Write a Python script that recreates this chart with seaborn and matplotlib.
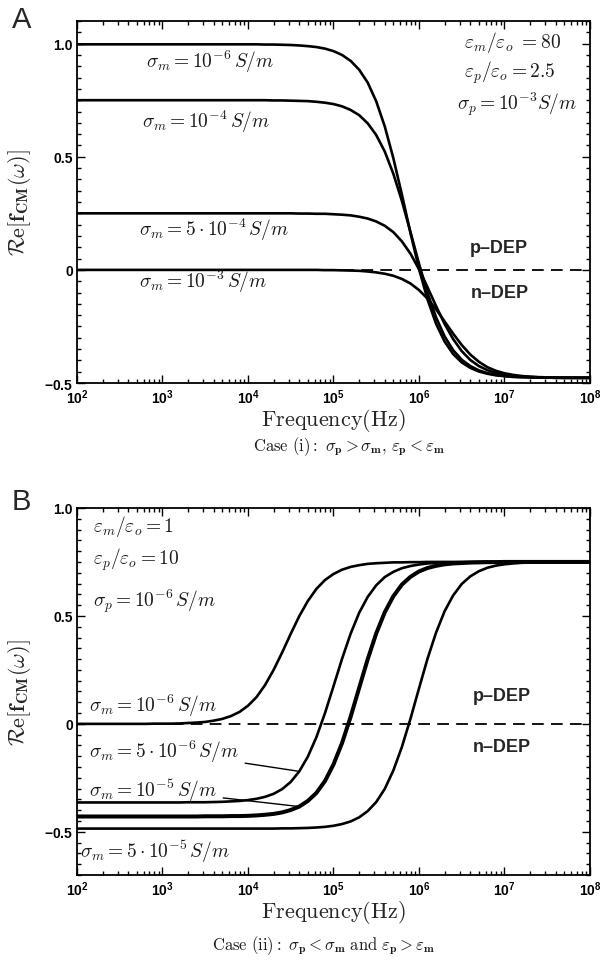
import numpy as np
import pandas as pd
import matplotlib
matplotlib.use("Agg")
import matplotlib.pyplot as plt
from matplotlib.ticker import MultipleLocator, LogLocator, NullFormatter, FixedLocator
import seaborn as sns

# ==========================================
# DADOS
# ==========================================
# expoentes da frequência: 10^2 ... 10^8, passo 0.1 década (61 pontos)
freq_exp = [round(2.0 + 0.1 * i, 1) for i in range(61)]

# Painel A: sigma_p > sigma_m, eps_p < eps_m
a_sig_1e6 = [0.997] * 20 + [
    0.997, 0.997, 0.996, 0.996, 0.995, 0.994, 0.992, 0.989, 0.985, 0.978,
    0.967, 0.950, 0.924, 0.885, 0.828, 0.745, 0.634, 0.494, 0.333, 0.164,
    0.005, -0.131, -0.238, -0.317, -0.372, -0.409, -0.433, -0.449, -0.459, -0.466,
    -0.470, -0.473, -0.474, -0.475, -0.476, -0.476, -0.477, -0.477, -0.477, -0.477, -0.477]
a_sig_1e4 = [0.750] * 20 + [
    0.750, 0.750, 0.750, 0.749, 0.749, 0.748, 0.747, 0.746, 0.743, 0.739,
    0.733, 0.723, 0.707, 0.684, 0.648, 0.596, 0.523, 0.425, 0.305, 0.168,
    0.028, -0.102, -0.210, -0.294, -0.355, -0.397, -0.425, -0.444, -0.456, -0.464,
    -0.468, -0.472, -0.474, -0.475, -0.476, -0.476, -0.477, -0.477, -0.477, -0.477, -0.477]
a_sig_5e4 = [0.250] * 20 + [
    0.250, 0.250, 0.250, 0.250, 0.250, 0.250, 0.249, 0.249, 0.248, 0.248,
    0.246, 0.244, 0.241, 0.235, 0.227, 0.214, 0.195, 0.167, 0.126, 0.072,
    0.003, -0.077, -0.160, -0.239, -0.306, -0.359, -0.398, -0.425, -0.443, -0.455,
    -0.463, -0.468, -0.471, -0.473, -0.475, -0.476, -0.476, -0.477, -0.477, -0.477, -0.477]
a_sig_1e3 = [0.0] * 20 + [
    0.0, 0.0, 0.0, 0.0, 0.0, 0.0, 0.0, 0.0, 0.0, -0.001,
    -0.001, -0.002, -0.003, -0.004, -0.007, -0.011, -0.017, -0.026, -0.040, -0.060,
    -0.089, -0.127, -0.174, -0.228, -0.282, -0.332, -0.374, -0.406, -0.430, -0.446,
    -0.457, -0.464, -0.469, -0.472, -0.474, -0.475, -0.476, -0.476, -0.477, -0.477, -0.477]

# Painel B: sigma_p < sigma_m, eps_p > eps_m
b_sig_1e6 = [0.0] * 9 + [
    0.001, 0.001, 0.001, 0.002, 0.004, 0.006, 0.009, 0.015, 0.023, 0.036,
    0.055, 0.084, 0.124, 0.180, 0.250, 0.331, 0.417, 0.499, 0.569, 0.625,
    0.666, 0.694, 0.714, 0.727, 0.735, 0.741, 0.744, 0.746, 0.748, 0.748,
    0.749, 0.749, 0.750] + [0.750] * 19
b_sig_5e6 = [-0.364] * 13 + [
    -0.363, -0.363, -0.363, -0.362, -0.361, -0.359, -0.357, -0.353, -0.347, -0.338,
    -0.324, -0.302, -0.269, -0.220, -0.152, -0.062, 0.049, 0.174, 0.301, 0.417,
    0.514, 0.588, 0.642, 0.680, 0.704, 0.721, 0.731, 0.738, 0.743, 0.745,
    0.747, 0.748, 0.749, 0.749] + [0.750] * 14
b_sig_1e5 = [-0.429] * 15 + [
    -0.428, -0.428, -0.428, -0.427, -0.427, -0.426, -0.424, -0.421, -0.417, -0.410,
    -0.399, -0.383, -0.357, -0.320, -0.265, -0.188, -0.089, 0.032, 0.166, 0.299,
    0.419, 0.517, 0.591, 0.645, 0.681, 0.706, 0.722, 0.732, 0.739, 0.743,
    0.745, 0.747, 0.748, 0.749, 0.749] + [0.750] * 11
b_sig_5e5 = [-0.485] * 24 + [
    -0.484, -0.484, -0.483, -0.482, -0.480, -0.477, -0.472, -0.464, -0.452, -0.433,
    -0.404, -0.362, -0.301, -0.216, -0.107, 0.023, 0.164, 0.302, 0.423, 0.522,
    0.595, 0.648, 0.683, 0.707, 0.723, 0.733, 0.739, 0.743, 0.746, 0.747,
    0.748, 0.749, 0.749] + [0.750] * 4

freq = 10 ** np.array(freq_exp)
xtick_exp = [2, 3, 4, 5, 6, 7, 8]

curvas_a = pd.DataFrame({"f": freq, "1e-6": a_sig_1e6, "1e-4": a_sig_1e4,
                         "5e-4": a_sig_5e4, "1e-3": a_sig_1e3})
curvas_b = pd.DataFrame({"f": freq, "1e-6": b_sig_1e6, "5e-6": b_sig_5e6,
                         "1e-5": b_sig_1e5, "5e-5": b_sig_5e5})

# ==========================================
# ESTILO
# ==========================================
sns.set_theme(style="ticks")
plt.rcParams["font.family"] = ["Liberation Sans", "DejaVu Sans"]
plt.rcParams["mathtext.fontset"] = "custom"
plt.rcParams["mathtext.rm"] = "Liberation Sans:bold"
plt.rcParams["mathtext.bf"] = "Liberation Sans:bold"
plt.rcParams["mathtext.it"] = "Liberation Sans:bold:italic"
plt.rcParams["axes.linewidth"] = 1.3
plt.rcParams["axes.edgecolor"] = "black"

TXT = "#1a1a1a"
CM = dict(math_fontfamily="cm", color=TXT)


def formatar_eixo(ax, ylabels):
    ax.set_xscale("log")
    ax.set_xlim(1e2, 1e8)
    ax.set_xticks([10.0 ** e for e in xtick_exp])
    ax.set_xticklabels([f"$10^{{{e}}}$" for e in xtick_exp])
    ax.xaxis.set_minor_locator(LogLocator(base=10, subs=np.arange(2, 10)))
    ax.xaxis.set_minor_formatter(NullFormatter())
    ax.yaxis.set_major_locator(FixedLocator([-0.5, 0, 0.5, 1.0]))
    ax.set_yticklabels(ylabels)
    ax.yaxis.set_minor_locator(MultipleLocator(0.05))
    ax.tick_params(which="both", direction="in", top=True, right=True, colors="black", width=1.0)
    ax.tick_params(which="major", length=6, pad=3, labelsize=10)
    ax.tick_params(which="minor", length=3)
    for lab in ax.get_xticklabels() + ax.get_yticklabels():
        lab.set_fontweight("bold")
    ax.set_xlabel(r"$\mathrm{Frequency(Hz)}$", fontsize=16, labelpad=0, math_fontfamily="cm")
    ax.set_ylabel(r"$\mathcal{R}\mathrm{e}[\mathbf{f}_{\mathbf{CM}}(\omega)]$", fontsize=16,
                  math_fontfamily="cm")
    ax.yaxis.set_label_coords(-0.085, 0.5)
    ax.axhline(0, color="black", lw=1.3, ls=(0, (6.5, 4)), zorder=1)


fig = plt.figure(figsize=(6.0, 9.7), dpi=100)
ax1 = fig.add_axes([0.1283, 0.6041, 0.855, 0.3732])
ax2 = fig.add_axes([0.1283, 0.0969, 0.855, 0.3784])

# ==========================================
# PAINEL A
# ==========================================
for col in ["1e-6", "1e-4", "5e-4", "1e-3"]:
    sns.lineplot(data=curvas_a, x="f", y=col, ax=ax1, color="black", lw=1.9, zorder=3)
ax1.set_ylim(-0.5, 1.1)
formatar_eixo(ax1, ["$-$0.5", "0", "0.5", "1.0"])

ax1.text(10 ** 2.81, 0.925, r"$\sigma_m = 10^{-6}\,S/m$", fontsize=14, va="center", **CM)
ax1.text(10 ** 2.76, 0.66, r"$\sigma_m = 10^{-4}\,S/m$", fontsize=14, va="center", **CM)
ax1.text(10 ** 2.73, 0.18, r"$\sigma_m = 5\cdot 10^{-4}\,S/m$", fontsize=14, va="center", **CM)
ax1.text(10 ** 2.73, -0.05, r"$\sigma_m = 10^{-3}\,S/m$", fontsize=14, va="center", **CM)
ax1.text(10 ** 6.53, 1.01, r"$\varepsilon_m/\varepsilon_o\ = 80$", fontsize=14, va="center", **CM)
ax1.text(10 ** 6.53, 0.875, r"$\varepsilon_p/\varepsilon_o = 2.5$", fontsize=14, va="center", **CM)
ax1.text(10 ** 6.44, 0.735, r"$\sigma_p = 10^{-3}S/m$", fontsize=14, va="center", **CM)
ax1.text(10 ** 6.6, 0.10, "p–DEP", fontsize=13, fontweight="bold", va="center")
ax1.text(10 ** 6.6, -0.10, "n–DEP", fontsize=13, fontweight="bold", va="center")
ax1.text(0.53, -0.172, r"$\mathrm{Case\ (i):}\ \sigma_{\mathbf{p}} > \sigma_{\mathbf{m}},\,"
         r"\varepsilon_{\mathbf{p}} < \varepsilon_{\mathbf{m}}$",
         transform=ax1.transAxes, ha="center", va="center", fontsize=12, **CM)

# ==========================================
# PAINEL B
# ==========================================
for col, lw in [("1e-6", 1.9), ("5e-6", 1.9), ("1e-5", 2.9), ("5e-5", 1.9)]:
    sns.lineplot(data=curvas_b, x="f", y=col, ax=ax2, color="black", lw=lw, zorder=3)
ax2.set_ylim(-0.7, 1.0)
formatar_eixo(ax2, ["$-$0.5", "0", "0.5", "1.0"])

ax2.text(10 ** 2.19, 0.92, r"$\varepsilon_m/\varepsilon_o = 1$", fontsize=14, va="center", **CM)
ax2.text(10 ** 2.19, 0.764, r"$\varepsilon_p/\varepsilon_o = 10$", fontsize=14, va="center", **CM)
ax2.text(10 ** 2.19, 0.574, r"$\sigma_p = 10^{-6}\,S/m$", fontsize=14, va="center", **CM)
ax2.text(10 ** 2.14, 0.088, r"$\sigma_m = 10^{-6}\,S/m$", fontsize=14, va="center", **CM)
ax2.text(10 ** 2.035, -0.59, r"$\sigma_m = 5\cdot 10^{-5}\,S/m$", fontsize=14, va="center", **CM)

i46 = freq_exp.index(4.6)
ax2.annotate(r"$\sigma_m = 5\cdot 10^{-6}\,S/m$", xy=(freq[i46], b_sig_5e6[i46]),
             xytext=(10 ** 2.14, -0.125), va="center", fontsize=14,
             arrowprops=dict(arrowstyle="-", color="black", lw=1.0, shrinkA=2, shrinkB=0), **CM)
ax2.annotate(r"$\sigma_m = 10^{-5}\,S/m$", xy=(freq[i46], b_sig_1e5[i46]),
             xytext=(10 ** 2.14, -0.306), va="center", fontsize=14,
             arrowprops=dict(arrowstyle="-", color="black", lw=1.0, shrinkA=2, shrinkB=0), **CM)
ax2.text(10 ** 6.63, 0.13, "p–DEP", fontsize=13, fontweight="bold", va="center")
ax2.text(10 ** 6.63, -0.106, "n–DEP", fontsize=13, fontweight="bold", va="center")
ax2.text(0.48, -0.19, r"$\mathrm{Case\ (ii):}\ \sigma_{\mathbf{p}} < \sigma_{\mathbf{m}}\ \mathrm{and}\ "
         r"\varepsilon_{\mathbf{p}} > \varepsilon_{\mathbf{m}}$",
         transform=ax2.transAxes, ha="center", va="center", fontsize=12, **CM)

fig.text(0.02, 0.979, "A", fontsize=21, va="center", ha="left")
fig.text(0.02, 0.482, "B", fontsize=21, va="center", ha="left")

plt.savefig("out.png", dpi=100)
